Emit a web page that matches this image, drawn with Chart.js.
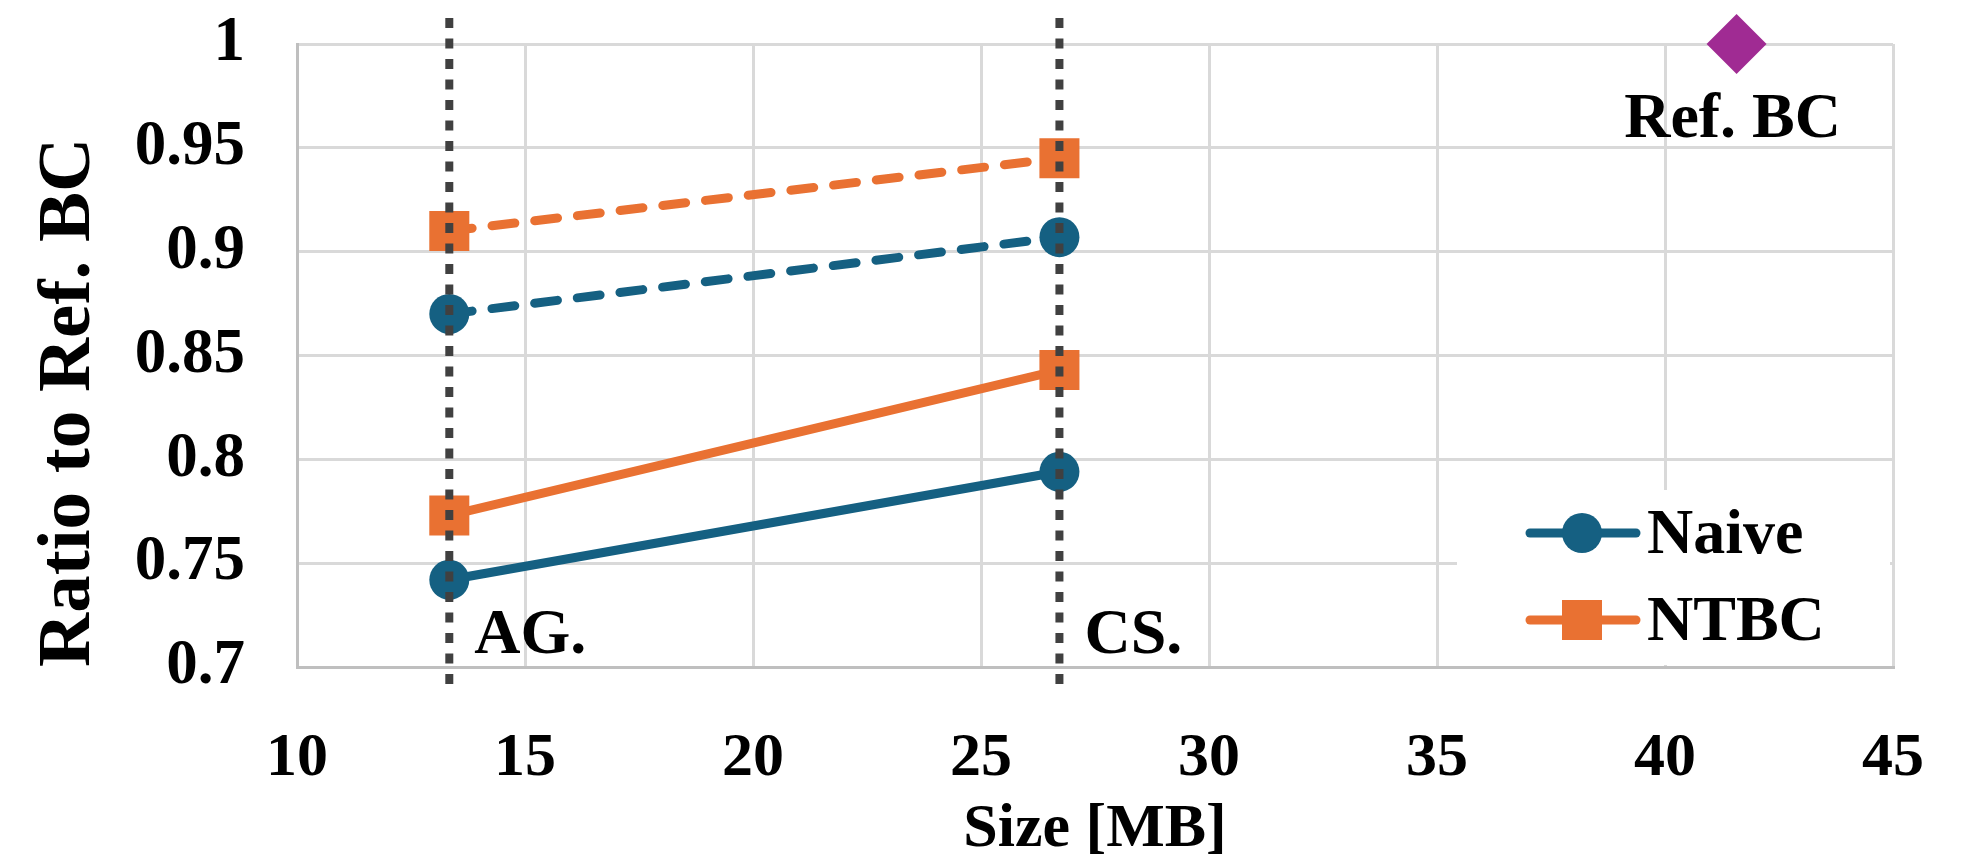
<!DOCTYPE html>
<html>
<head>
<meta charset="utf-8">
<script src="https://cdn.jsdelivr.net/npm/chart.js@4"></script>
<style>
  html, body { margin: 0; padding: 0; background: #fff; }
  canvas { display: block; }
</style>
</head>
<body>
<canvas id="ratio_chart" width="1976" height="861"></canvas>
<script>
// data
const sizes = [13.34, 26.72];          // AG. and CS. sizes in MB
const siteNames = ["AG.", "CS."];
const naive = [0.742, 0.794];
const ntbc = [0.773, 0.843];
const naiveDashed = [0.870, 0.907];
const ntbcDashed = [0.910, 0.945];
const refSize = [41.57];
const refRatio = [1.0];
const refName = "Ref. BC";
const xRange = [10, 45, 5];
const yRange = [0.7, 1.0, 0.05];

const blue = "#156082";
const orange = "#E97132";
const purple = "#A02B93";
const serif = "'Liberation Serif', 'Times New Roman', serif";

function pts(xs, ys) {
  return xs.map((x, i) => ({ x: x, y: ys[i] }));
}

// dotted site lines, site labels, ref label and legend
const overlay = {
  id: "overlay",
  afterDatasetsDraw(chart) {
    const ctx = chart.ctx;
    const xs = chart.scales.x;
    const ys = chart.scales.y;
    const area = chart.chartArea;

    ctx.save();
    ctx.strokeStyle = "#404040";
    ctx.lineWidth = 8;
    ctx.setLineDash([10, 10.5]);
    sizes.forEach((s) => {
      const px = xs.getPixelForValue(s);
      ctx.beginPath();
      ctx.moveTo(px, 18);
      ctx.lineTo(px, area.bottom + 20);
      ctx.stroke();
    });
    ctx.setLineDash([]);

    ctx.fillStyle = "#000";
    ctx.font = "bold 64px " + serif;
    ctx.textBaseline = "alphabetic";
    ctx.textAlign = "left";
    sizes.forEach((s, i) => {
      ctx.fillText(siteNames[i], xs.getPixelForValue(s) + 25, area.bottom - 14);
    });

    ctx.textAlign = "center";
    ctx.fillText(refName, xs.getPixelForValue(refSize[0]) - 4, ys.getPixelForValue(refRatio[0]) + 93);

    // legend box
    ctx.fillStyle = "#fff";
    ctx.fillRect(1457, 490, area.right - 1457 - 3, area.bottom - 490 - 2);
    const items = [
      { label: "Naive", color: blue, shape: "circle", y: 533 },
      { label: "NTBC", color: orange, shape: "square", y: 620 }
    ];
    items.forEach((it) => {
      ctx.strokeStyle = it.color;
      ctx.fillStyle = it.color;
      ctx.lineWidth = 9;
      ctx.lineCap = "round";
      ctx.beginPath();
      ctx.moveTo(1530, it.y);
      ctx.lineTo(1636, it.y);
      ctx.stroke();
      if (it.shape === "circle") {
        ctx.beginPath();
        ctx.arc(1582, it.y, 20, 0, Math.PI * 2);
        ctx.fill();
      } else {
        ctx.fillRect(1562, it.y - 20, 40, 40);
      }
      ctx.fillStyle = "#000";
      ctx.textAlign = "left";
      ctx.textBaseline = "middle";
      ctx.font = "bold 64px " + serif;
      ctx.fillText(it.label, 1647, it.y + 3);
    });
    ctx.restore();
  }
};

const ctx = document.getElementById("ratio_chart");

new Chart(ctx, {
  type: "line",
  data: {
    datasets: [
      {
        label: "Naive",
        data: pts(sizes, naive),
        borderColor: blue,
        backgroundColor: blue,
        borderWidth: 9,
        borderCapStyle: "round",
        pointStyle: "circle",
        pointRadius: 20,
        pointBorderWidth: 0,
        clip: false
      },
      {
        label: "NTBC",
        data: pts(sizes, ntbc),
        borderColor: orange,
        backgroundColor: orange,
        borderWidth: 9,
        borderCapStyle: "round",
        pointStyle: "rect",
        pointRadius: 28.3,
        pointBorderWidth: 0,
        clip: false
      },
      {
        label: "Naive (dashed)",
        data: pts(sizes, naiveDashed),
        borderColor: blue,
        backgroundColor: blue,
        borderWidth: 9,
        borderCapStyle: "round",
        borderDash: [23, 20],
        pointStyle: "circle",
        pointRadius: 20,
        pointBorderWidth: 0,
        clip: false
      },
      {
        label: "NTBC (dashed)",
        data: pts(sizes, ntbcDashed),
        borderColor: orange,
        backgroundColor: orange,
        borderWidth: 9,
        borderCapStyle: "round",
        borderDash: [23, 20],
        pointStyle: "rect",
        pointRadius: 28.3,
        pointBorderWidth: 0,
        clip: false
      },
      {
        label: refName,
        data: pts(refSize, refRatio),
        showLine: false,
        backgroundColor: purple,
        borderColor: purple,
        pointStyle: "rectRot",
        pointRadius: 30,
        pointBorderWidth: 0,
        clip: false
      }
    ]
  },
  options: {
    responsive: false,
    animation: false,
    devicePixelRatio: 1,
    layout: { padding: { top: 44, right: 83, left: 0, bottom: 0 } },
    plugins: {
      legend: { display: false },
      tooltip: { enabled: false }
    },
    scales: {
      x: {
        type: "linear",
        min: xRange[0],
        max: xRange[1],
        afterFit: (s) => {
          s.height = 194;
          s.paddingLeft = 0;
          s.paddingRight = 0;
        },
        ticks: {
          stepSize: xRange[2],
          color: "#000",
          padding: 55,
          font: { family: serif, size: 62, weight: "bold" }
        },
        grid: { color: "#d9d9d9", lineWidth: 3, drawTicks: false },
        border: { color: "#bfbfbf", width: 3 },
        title: {
          display: true,
          text: "Size [MB]",
          color: "#000",
          padding: { top: 0, bottom: 0 },
          font: { family: serif, size: 62, weight: "bold", lineHeight: 1 }
        }
      },
      y: {
        min: yRange[0],
        max: yRange[1],
        afterFit: (s) => {
          s.width = 297;
          s.paddingTop = 0;
          s.paddingBottom = 0;
        },
        ticks: {
          stepSize: yRange[2],
          color: "#000",
          padding: 52,
          font: { family: serif, size: 63, weight: "bold" },
          callback: (v) => String(Math.round(v * 100) / 100)
        },
        grid: { color: "#d9d9d9", lineWidth: 3, drawTicks: false },
        border: { color: "#bfbfbf", width: 3 },
        title: {
          display: true,
          text: "Ratio to Ref. BC",
          color: "#000",
          align: "start",
          padding: { top: 25, bottom: 0 },
          font: { family: serif, size: 75, weight: "bold" }
        }
      }
    }
  },
  plugins: [overlay]
});
</script>
</body>
</html>
